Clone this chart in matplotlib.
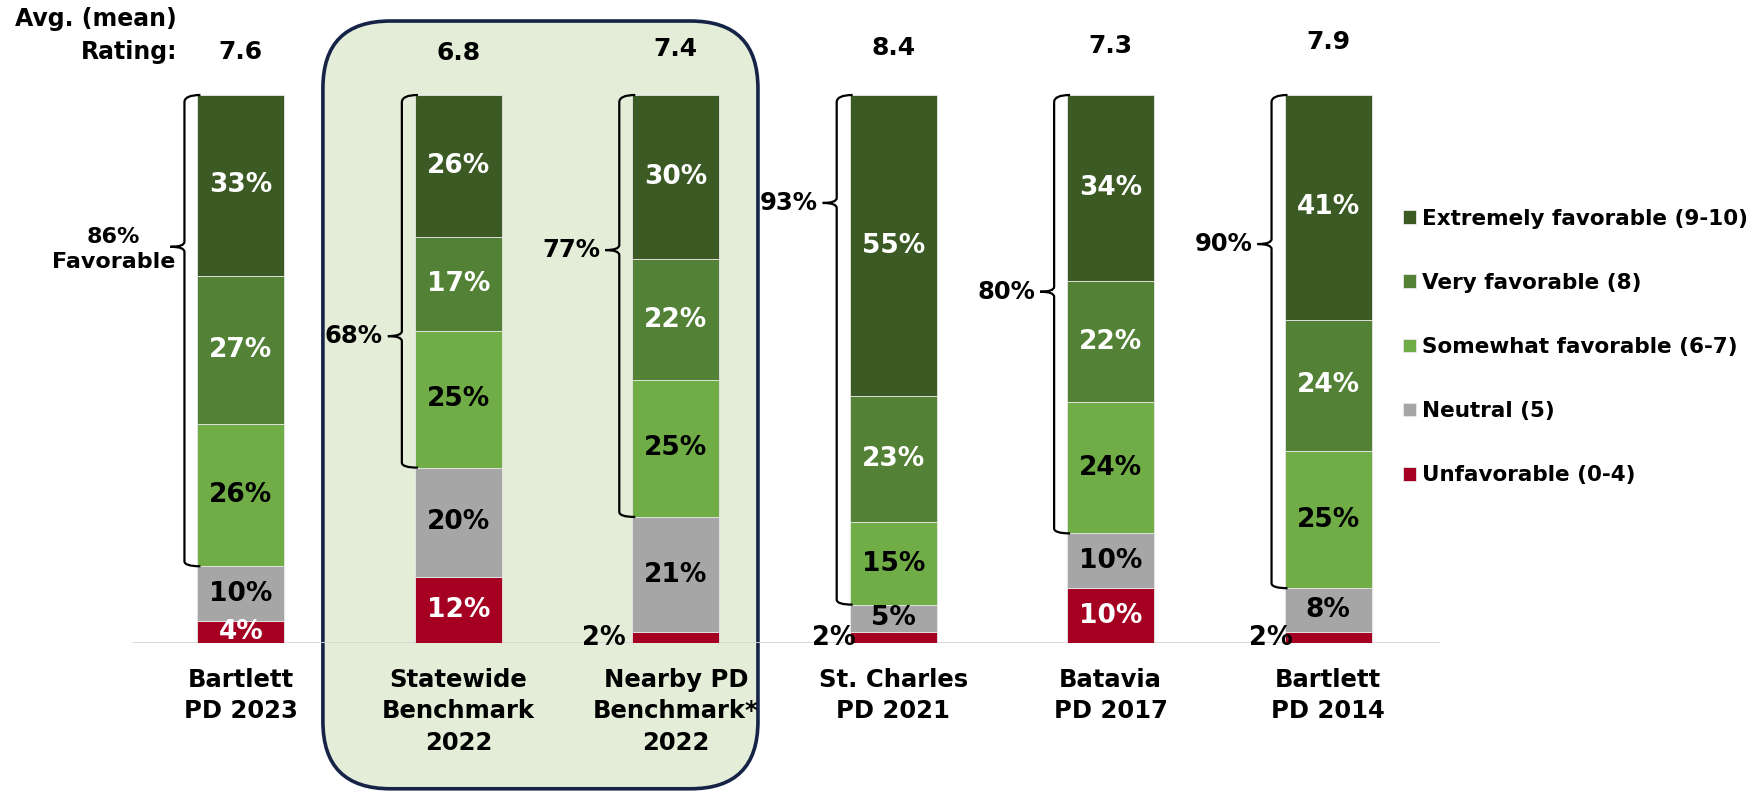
import matplotlib
matplotlib.use("Agg")
import matplotlib.pyplot as plt
import numpy as np
from matplotlib.patches import FancyBboxPatch
from matplotlib.path import Path
from matplotlib.patches import PathPatch

plt.rcParams['font.family'] = ['DejaVu Sans']
plt.rcParams['font.weight'] = 'bold'

# data
categories = ['Bartlett\nPD 2023', 'Statewide\nBenchmark\n2022', 'Nearby PD\nBenchmark*\n2022',
              'St. Charles\nPD 2021', 'Batavia\nPD 2017', 'Bartlett\nPD 2014']
ratings = ['7.6', '6.8', '7.4', '8.4', '7.3', '7.9']
unfavorable = [4, 12, 2, 2, 10, 2]
neutral = [10, 20, 21, 5, 10, 8]
somewhat_fav = [26, 25, 25, 15, 24, 25]
very_fav = [27, 17, 22, 23, 22, 24]
extremely_fav = [33, 26, 30, 55, 34, 41]
favorable_total = [86, 68, 77, 93, 80, 90]

series_names = ['Unfavorable (0-4)', 'Neutral (5)', 'Somewhat favorable (6-7)',
                'Very favorable (8)', 'Extremely favorable (9-10)']
series = [unfavorable, neutral, somewhat_fav, very_fav, extremely_fav]
colors = ['#A50021', '#A6A6A6', '#70AD47', '#538135', '#3B5A24']
text_colors = ['white', 'black', 'black', 'white', 'white']

# layout (where the brace tick sits on each bar, in % from bottom)
brace_tick = [72.3, 56, 71.7, 80.3, 64.1, 72.8]
rating_y = [107.8, 107.6, 108.4, 108.6, 108.9, 109.6]
small_lbl_dx = [0.03, 0.03, -0.03, 0.03, 0.03, 0.04]

W, H = 1760, 791
fig = plt.figure(figsize=(W / 100, H / 100), dpi=100)
ax = fig.add_axes([132 / W, 148 / H, 1308 / W, 548 / H])
ax.set_xlim(-0.501, 5.515)
ax.set_ylim(0, 100)
ax.axis('off')

px_x = 1 / 217.4   # data x units per pixel
px_y = 100 / 548   # data y units per pixel

x = np.arange(len(categories))
bw = 0.40

# highlighted benchmark box
box = FancyBboxPatch((0.377, -26.6), 2.378 - 0.377, 113.5 + 26.6,
                     boxstyle='round,pad=0,rounding_size=0.31',
                     mutation_aspect=px_y / px_x,
                     facecolor='#E3EDD8', edgecolor='#142346', linewidth=2.6,
                     clip_on=False, zorder=0)
ax.add_patch(box)

ax.axhline(0, color='#D6D6D6', lw=2, zorder=1)

bottom = np.zeros(len(x))
handles = []
for vals, col, tcol, name in zip(series, colors, text_colors, series_names):
    vals = np.array(vals, dtype=float)
    bars = ax.bar(x, vals, bw, bottom=bottom, color=col, edgecolor='#E8E8E8',
                  linewidth=0.6, label=name, zorder=2)
    handles.append(bars)
    for i, v in enumerate(vals):
        if v >= 3:
            ax.text(x[i], bottom[i] + v / 2, f'{v:.0f}%', ha='center', va='center',
                    color=tcol, fontsize=19, fontweight='bold', zorder=3)
        else:
            ax.text(x[i] - bw / 2 + small_lbl_dx[i], 1.0, f'{v:.0f}%', ha='right',
                    va='center', color='black', fontsize=18.5, fontweight='bold', zorder=3)
    bottom += vals

# braces for favorable share
for i, fav in enumerate(favorable_total):
    bl = x[i] - bw / 2
    top, bot = 100 - 0.4, 100 - fav
    mid = brace_tick[i]
    xv = bl - 13 * px_x
    xe = bl + 3 * px_x
    xt = bl - 27 * px_x
    ry = 5 * px_y
    verts = [(xe, top + 0.4), (xv, top + 0.4), (xv, top - ry),
             (xv, mid + ry), (xv, mid), (xt, mid),
             (xv, mid), (xv, mid - ry),
             (xv, bot + ry), (xv, bot), (xe, bot)]
    codes = [Path.MOVETO, Path.CURVE3, Path.CURVE3,
             Path.LINETO, Path.CURVE3, Path.CURVE3,
             Path.CURVE3, Path.CURVE3,
             Path.LINETO, Path.CURVE3, Path.CURVE3]
    ax.add_patch(PathPatch(Path(verts, codes), facecolor='none', edgecolor='black',
                           lw=1.6, zorder=3, clip_on=False))
    if i == 0:
        ax.text(xt + 5 * px_x, mid - 0.5, f'{fav}%\nFavorable', ha='right', va='center',
                multialignment='center', fontsize=16, fontweight='bold',
                linespacing=1.3)
    else:
        ax.text(xt - 5 * px_x, mid, f'{fav}%', ha='right', va='center',
                fontsize=17.5, fontweight='bold')

# ratings row
for i, r in enumerate(ratings):
    ax.text(x[i], rating_y[i], r, ha='center', va='center', fontsize=18, fontweight='bold')
ax.text(-0.294, 113.8, 'Avg. (mean)', ha='right', va='center', fontsize=17, fontweight='bold')
ax.text(-0.294, 107.8, 'Rating:', ha='right', va='center', fontsize=17, fontweight='bold')

# category labels
for i, c in enumerate(categories):
    ax.text(x[i], -4.6, c, ha='center', va='top', fontsize=17.5, fontweight='bold',
            linespacing=1.38)

leg = fig.legend(handles=handles[::-1], loc='upper left',
                 bbox_to_anchor=(1392 / W, (H - 198) / H), frameon=False,
                 fontsize=15.5, handlelength=0.6, handleheight=0.6,
                 handletextpad=0.3, labelspacing=2.05, borderpad=0)
for t in leg.get_texts():
    t.set_fontweight('bold')

fig.savefig('out.png', dpi=100)
